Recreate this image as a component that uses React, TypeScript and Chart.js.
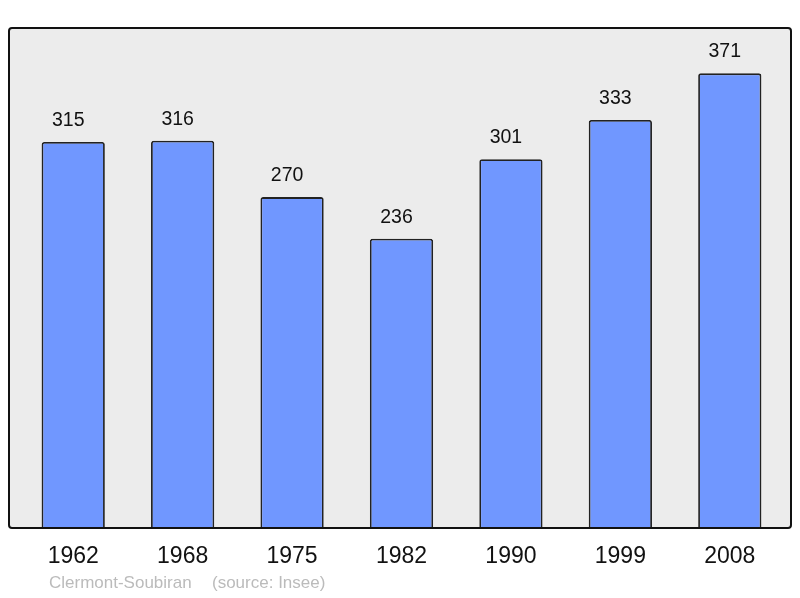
import React, { useEffect, useRef } from "react";
import { Chart, registerables } from "chart.js";

Chart.register(...registerables);

const categories = ["1962", "1968", "1975", "1982", "1990", "1999", "2008"];
const populations = [315, 316, 270, 236, 301, 333, 371];
const footerName = "Clermont-Soubiran";
const footerSource = "(source: Insee)";

const FONT = "'Liberation Sans', Arial, sans-serif";

const framePlugin = {
  id: "frame",
  beforeDraw(chart: any) {
    const { ctx, chartArea } = chart;
    const left = 9, right = 791, top = chartArea.top, bottom = chartArea.bottom;
    ctx.save();
    ctx.beginPath();
    (ctx as any).roundRect(left, top, right - left, bottom - top, 3);
    ctx.fillStyle = "#ececec";
    ctx.fill();
    ctx.restore();
  },
  afterDatasetsDraw(chart: any) {
    const { ctx, chartArea } = chart;
    const left = 9, right = 791, top = chartArea.top, bottom = chartArea.bottom;
    ctx.save();
    ctx.beginPath();
    (ctx as any).roundRect(left, top, right - left, bottom - top, 3);
    ctx.lineWidth = 2;
    ctx.strokeStyle = "#111";
    ctx.stroke();

    // value labels
    const meta = chart.getDatasetMeta(0);
    ctx.fillStyle = "#111";
    ctx.textAlign = "center";
    ctx.textBaseline = "middle";
    ctx.font = `19.5px ${FONT}`;
    meta.data.forEach((bar: any, i: number) => {
      ctx.fillText(String(populations[i]), bar.x - 5, bar.y - 21.5);
    });

    // category labels
    const xScale = chart.scales.x;
    ctx.font = `23px ${FONT}`;
    categories.forEach((c, i) => {
      ctx.fillText(c, xScale.getPixelForValue(i), 556.5);
    });

    // footer
    ctx.fillStyle = "#bbbbbb";
    ctx.textAlign = "left";
    ctx.font = `17px ${FONT}`;
    ctx.fillText(footerName, 49, 583.5);
    ctx.fillText(footerSource, 212, 583.5);
    ctx.restore();
  },
};

export default function App() {
  const ref = useRef<HTMLCanvasElement | null>(null);
  useEffect(() => {
    if (!ref.current) return;
    const chart = new Chart(ref.current, {
      type: "bar",
      data: {
        labels: categories,
        datasets: [
          {
            data: populations,
            backgroundColor: "#7097ff",
            borderColor: "#222",
            borderWidth: 1.8,
            borderSkipped: "bottom",
            borderRadius: { topLeft: 2.5, topRight: 2.5, bottomLeft: 0, bottomRight: 0 },
            categoryPercentage: 1,
            barPercentage: 0.578,
          },
        ],
      },
      options: {
        responsive: false,
        animation: false,
        devicePixelRatio: 1,
        layout: { padding: { left: 18.5, right: 15.5, top: 28, bottom: 70 } },
        plugins: { legend: { display: false }, tooltip: { enabled: false } },
        scales: {
          x: { display: false, offset: true },
          y: { display: false, min: 0, max: 408 },
        },
      },
      plugins: [framePlugin],
    });
    return () => chart.destroy();
  }, []);
  return (
    <div style={{ position: "fixed", left: 0, top: 0, width: 800, height: 598, background: "#fff" }}>
      <canvas ref={ref} width={800} height={598} style={{ width: 800, height: 598, display: "block" }} />
    </div>
  );
}
